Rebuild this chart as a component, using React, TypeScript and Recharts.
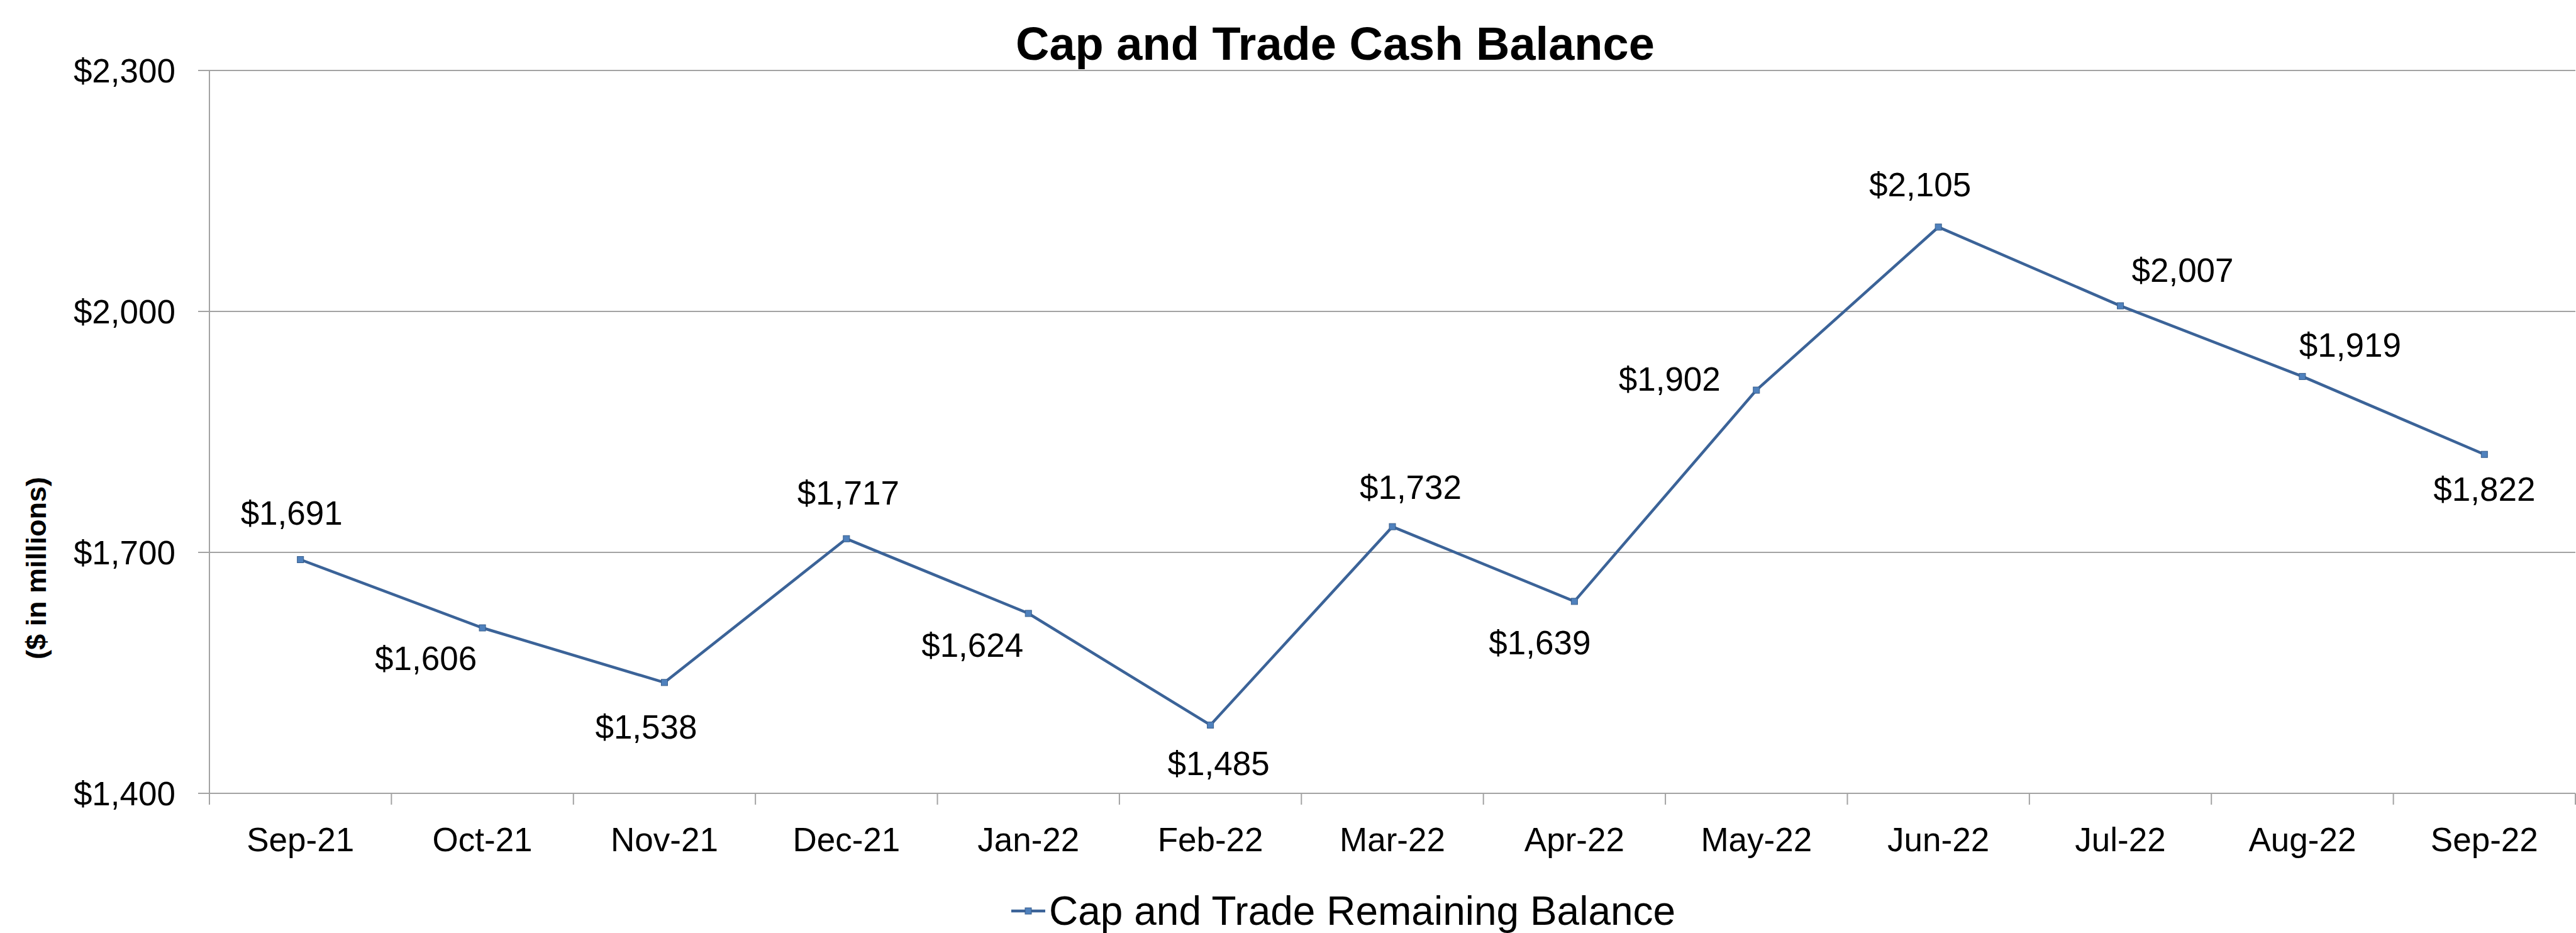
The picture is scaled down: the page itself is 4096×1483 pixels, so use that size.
import { CartesianGrid, Line, LineChart, XAxis, YAxis } from 'recharts'

const months = [
  'Sep-21',
  'Oct-21',
  'Nov-21',
  'Dec-21',
  'Jan-22',
  'Feb-22',
  'Mar-22',
  'Apr-22',
  'May-22',
  'Jun-22',
  'Jul-22',
  'Aug-22',
  'Sep-22',
]

const remainingBalance = [1691, 1606, 1538, 1717, 1624, 1485, 1732, 1639, 1902, 2105, 2007, 1919, 1822]

const yTicks = [1400, 1700, 2000, 2300]

// where each data label sits relative to its point (hand placed in the original)
const labelOffsets: [number, number][] = [
  [-14, -75],
  [-90, 48],
  [-29, 70],
  [3, -73],
  [-89, 50],
  [13, 60],
  [29, -63],
  [-55, 65],
  [-138, -18],
  [-29, -68],
  [99, -57],
  [76, -50],
  [0, 55],
]

const WIDTH = 4096
const HEIGHT = 1483
const PLOT_LEFT = 333
const PLOT_TOP = 112
const PLOT_BOTTOM = 1261
const PLOT_RIGHT = 4095
const BAND = (PLOT_RIGHT - PLOT_LEFT) / months.length

const FONT = '"Liberation Sans", Arial, sans-serif'
const GRID = '#a3a3a3'
const LINE = '#3b6398'

const chartData = months.map((month, i) => ({ month, balance: remainingBalance[i] }))

const money = (v: number) => `$${v.toLocaleString('en-US')}`

function MonthTick({ x, payload, index }: any) {
  const left = x - BAND / 2
  return (
    <g>
      <line x1={left} x2={left} y1={PLOT_BOTTOM} y2={PLOT_BOTTOM + 18} stroke={GRID} strokeWidth={2} />
      {index === months.length - 1 && (
        <line x1={x + BAND / 2} x2={x + BAND / 2} y1={PLOT_BOTTOM} y2={PLOT_BOTTOM + 18} stroke={GRID} strokeWidth={2} />
      )}
      <text x={x} y={PLOT_BOTTOM + 92} textAnchor="middle" fontSize={53} fontFamily={FONT} fill="#000">
        {payload.value}
      </text>
    </g>
  )
}

function PointLabel({ x, y, index, value }: any) {
  const [dx, dy] = labelOffsets[index] ?? [0, -60]
  return (
    <text
      x={x + dx}
      y={y + dy}
      dy="0.36em"
      textAnchor="middle"
      fontSize={53}
      fontFamily={FONT}
      fill="#000"
    >
      {money(value)}
    </text>
  )
}

function SquareDot({ cx, cy }: any) {
  if (cx == null || cy == null) return null
  return <rect x={cx - 5} y={cy - 5} width={10} height={10} fill="#4f81bd" stroke="#385d8a" strokeWidth={1} />
}

// the axis title sits lower than the plot centre in the original
function AxisTitle() {
  return (
    <text
      x={57}
      y={903}
      transform="rotate(-90 57 903)"
      dy="0.36em"
      textAnchor="middle"
      fontSize={45}
      fontWeight={700}
      fontFamily={FONT}
      fill="#000"
    >
      ($ in millions)
    </text>
  )
}

function App() {
  return (
    <div
      style={{
        position: 'fixed',
        left: 0,
        top: 0,
        width: WIDTH,
        height: HEIGHT,
        background: '#fff',
        fontFamily: FONT,
      }}
    >
      <div
        style={{
          position: 'absolute',
          left: 1615,
          width: 1000,
          top: 30,
          textAlign: 'center',
          fontSize: 74,
          fontWeight: 700,
          lineHeight: '80px',
          color: '#000',
          whiteSpace: 'nowrap',
        }}
      >
        Cap and Trade Cash Balance
      </div>

      <LineChart
        width={WIDTH}
        height={HEIGHT}
        data={chartData}
        margin={{ top: PLOT_TOP, right: WIDTH - PLOT_RIGHT, bottom: HEIGHT - PLOT_BOTTOM - 60, left: 0 }}
      >
        <CartesianGrid horizontal vertical={false} stroke={GRID} strokeWidth={2} />
        <XAxis
          dataKey="month"
          scale="band"
          height={60}
          axisLine={{ stroke: GRID, strokeWidth: 2 }}
          tickLine={false}
          tick={<MonthTick />}
          interval={0}
        />
        <YAxis
          width={PLOT_LEFT}
          domain={[1400, 2300]}
          ticks={yTicks}
          interval={0}
          tickSize={18}
          tickMargin={36}
          axisLine={{ stroke: GRID, strokeWidth: 2 }}
          tickLine={{ stroke: GRID, strokeWidth: 2 }}
          tick={{ fill: '#000', fontSize: 53, fontFamily: FONT }}
          tickFormatter={money}
          label={{ content: <AxisTitle /> }}
        />
        <Line
          dataKey="balance"
          name="Cap and Trade Remaining Balance"
          stroke={LINE}
          strokeWidth={4.5}
          dot={<SquareDot />}
          activeDot={false}
          label={<PointLabel />}
          isAnimationActive={false}
        />
      </LineChart>

      <div
        style={{
          position: 'absolute',
          left: 1608,
          top: 1408,
          height: 80,
          display: 'flex',
          alignItems: 'center',
          fontSize: 64,
          color: '#000',
          whiteSpace: 'nowrap',
        }}
      >
        <svg width={54} height={20} style={{ marginRight: 6 }}>
          <line x1={0} x2={54} y1={10} y2={10} stroke={LINE} strokeWidth={4.5} />
          <rect x={22} y={5} width={10} height={10} fill="#4f81bd" stroke="#385d8a" strokeWidth={1} />
        </svg>
        <span>Cap and Trade Remaining Balance</span>
      </div>
    </div>
  )
}

export default App
